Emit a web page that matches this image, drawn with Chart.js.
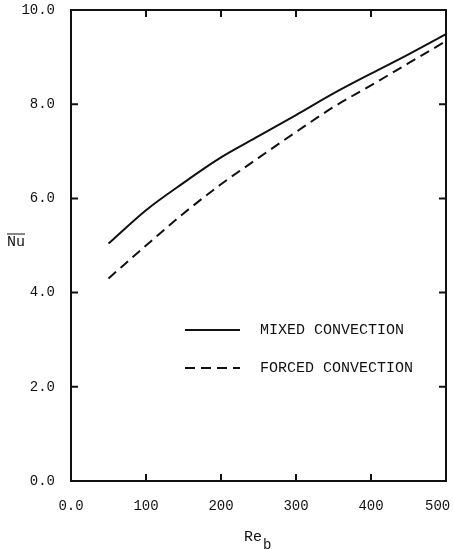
<!DOCTYPE html>
<html>
<head>
<meta charset="utf-8">
<script src="https://cdn.jsdelivr.net/npm/chart.js@4.4.1/dist/chart.umd.min.js"></script>
<style>
  html, body { margin: 0; padding: 0; background: #fff; }
  #wrap { width: 453px; height: 549px; }
</style>
</head>
<body>
<div id="wrap"><canvas id="nuChart" width="453" height="549"></canvas></div>
<script>
// Reynolds number (Re_b) samples and the two Nu curves
const reynolds = [50, 100, 150, 200, 250, 300, 350, 400, 450, 500];
const mixedNu = [5.04, 5.75, 6.33, 6.87, 7.32, 7.77, 8.23, 8.65, 9.06, 9.49];
const forcedNu = [4.30, 5.00, 5.68, 6.30, 6.86, 7.41, 7.94, 8.40, 8.87, 9.34];

const seriesNames = ['MIXED CONVECTION', 'FORCED CONVECTION'];
const xTickLabels = ['0.0', '100', '200', '300', '400', '500  '];
const yTickLabels = ['0.0', '2.0', '4.0', '6.0', '8.0', '10.0'];

const monoFont = '"Liberation Mono", "DejaVu Sans Mono", monospace';
const ink = '#111';

function toPoints(xs, ys) {
    return xs.map((x, i) => ({ x: x, y: ys[i] }));
}

// frame, inward ticks, legend and axis titles
const decorations = {
    id: 'decorations',
    afterDraw(chart) {
        const ctx = chart.ctx;
        const area = chart.chartArea;
        const xs = chart.scales.x;
        const ys = chart.scales.y;
        ctx.save();
        ctx.strokeStyle = ink;
        ctx.lineWidth = 2;
        ctx.strokeRect(area.left, area.top, area.right - area.left, area.bottom - area.top);

        const tick = 7;
        ctx.beginPath();
        xs.ticks.forEach(t => {
            const px = xs.getPixelForValue(t.value);
            ctx.moveTo(px, area.bottom);
            ctx.lineTo(px, area.bottom - tick);
            ctx.moveTo(px, area.top);
            ctx.lineTo(px, area.top + tick);
        });
        ys.ticks.forEach(t => {
            const py = ys.getPixelForValue(t.value);
            ctx.moveTo(area.left, py);
            ctx.lineTo(area.left + tick, py);
            ctx.moveTo(area.right, py);
            ctx.lineTo(area.right - tick, py);
        });
        ctx.stroke();

        // legend inside the plot
        const legendRows = [330, 368];
        chart.data.datasets.forEach((ds, i) => {
            const y = legendRows[i];
            ctx.beginPath();
            ctx.lineWidth = 2;
            ctx.setLineDash(ds.borderDash || []);
            ctx.moveTo(185, y);
            ctx.lineTo(240, y);
            ctx.stroke();
            ctx.setLineDash([]);
            ctx.fillStyle = ink;
            ctx.font = '15px ' + monoFont;
            ctx.textBaseline = 'middle';
            ctx.textAlign = 'left';
            ctx.fillText(ds.label, 260, y);
        });

        // y title: Nu with overbar
        ctx.font = '15px ' + monoFont;
        ctx.textBaseline = 'middle';
        ctx.textAlign = 'left';
        ctx.fillText('Nu', 7, 242);
        const w = ctx.measureText('Nu').width;
        ctx.beginPath();
        ctx.lineWidth = 1;
        ctx.moveTo(7, 234);
        ctx.lineTo(7 + w, 234);
        ctx.stroke();

        // x title: Re_b
        ctx.font = '15px ' + monoFont;
        ctx.fillText('Re', 244, 537);
        const rw = ctx.measureText('Re').width;
        ctx.font = '14px ' + monoFont;
        ctx.fillText('b', 244 + rw + 1, 545);
        ctx.restore();
    }
};

new Chart(document.getElementById('nuChart'), {
    type: 'line',
    data: {
        datasets: [{
            label: seriesNames[0],
            data: toPoints(reynolds, mixedNu),
            borderColor: ink,
            borderWidth: 2,
            pointRadius: 0,
            fill: false,
            cubicInterpolationMode: 'monotone'
        }, {
            label: seriesNames[1],
            data: toPoints(reynolds, forcedNu),
            borderColor: ink,
            borderWidth: 2,
            borderDash: [10, 6],
            pointRadius: 0,
            fill: false,
            cubicInterpolationMode: 'monotone'
        }]
    },
    options: {
        responsive: false,
        animation: false,
        events: [],
        layout: { padding: { top: 10, right: 7, left: 0, bottom: 0 } },
        plugins: {
            legend: { display: false },
            tooltip: { enabled: false }
        },
        scales: {
            x: {
                type: 'linear',
                min: 0,
                max: 500,
                grid: { display: false },
                border: { display: false },
                ticks: {
                    stepSize: 100,
                    maxRotation: 0,
                    padding: 9,
                    color: ink,
                    font: { family: monoFont, size: 14 },
                    callback: (value, index) => xTickLabels[index]
                },
                afterFit(scale) {
                    scale.height = 68;
                    scale.paddingLeft = 0;
                    scale.paddingRight = 0;
                }
            },
            y: {
                min: 0,
                max: 10,
                grid: { display: false },
                border: { display: false },
                ticks: {
                    stepSize: 2,
                    padding: 8,
                    color: ink,
                    font: { family: monoFont, size: 14 },
                    callback: (value, index) => yTickLabels[index]
                },
                afterFit(scale) {
                    scale.width = 71;
                    scale.paddingTop = 0;
                    scale.paddingBottom = 0;
                }
            }
        }
    },
    plugins: [decorations]
});
</script>
</body>
</html>
